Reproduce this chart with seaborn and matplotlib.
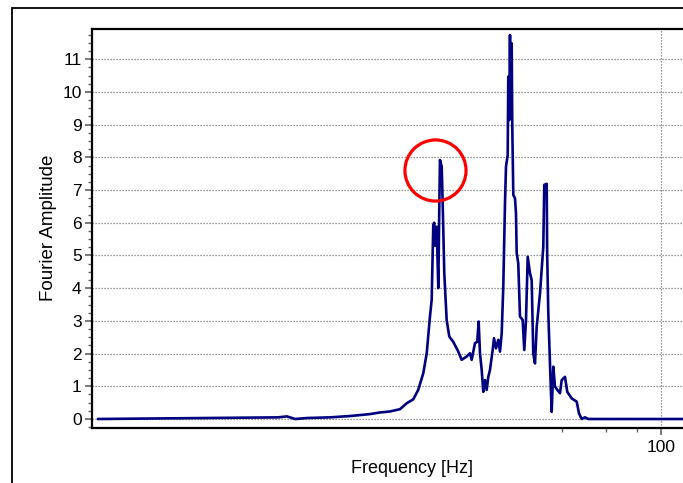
import numpy as np
import pandas as pd
import matplotlib
matplotlib.use("Agg")
import matplotlib.pyplot as plt
from matplotlib.ticker import FixedLocator, MultipleLocator, NullFormatter, FixedFormatter
from matplotlib.patches import Rectangle
import seaborn as sns

# ---- data (frequency in Hz, Fourier amplitude) ----
freq = [0.56, 2.94, 3.19, 3.44, 3.84, 4.74, 5.70, 6.86, 7.52, 8.24, 9.04, 9.61,
        10.21, 10.69, 11.20, 11.56, 11.91, 12.10, 12.28, 12.39, 12.47, 12.67,
        12.86, 12.98, 13.06, 13.27, 13.39, 13.59, 13.89, 14.23, 14.76, 15.46,
        15.95, 16.70, 17.22, 17.49, 18.03, 18.41, 18.65, 18.88, 19.18, 19.46,
        19.77, 20.08, 20.38, 20.70, 21.22, 21.48, 21.88, 22.35, 22.70, 23.06,
        23.40, 23.77, 23.99, 24.37, 24.50, 24.73, 24.89, 25.00, 25.12, 25.28,
        25.42, 25.66, 26.06, 26.30, 26.47, 26.86, 27.29, 27.97, 28.39, 28.84,
        29.30, 29.92, 30.39, 30.84, 31.33, 31.83, 32.81, 33.82, 34.13, 34.90,
        35.05, 35.42, 35.97, 36.31, 36.54, 37.09, 37.67, 38.48, 39.45, 40.07,
        41.30, 42.18, 43.93, 46.01, 46.99, 48.17, 49.66, 51.19, 143.0]
amp = [0.0, 0.05, 0.08, 0.0, 0.03, 0.05, 0.09, 0.15, 0.20, 0.23, 0.30, 0.48,
       0.60, 0.89, 1.40, 2.01, 3.13, 3.64, 5.93, 6.00, 5.30, 5.88,
       4.00, 6.49, 7.92, 7.72, 6.61, 4.46, 3.03, 2.52, 2.36, 2.06,
       1.81, 1.91, 2.01, 1.81, 2.32, 2.36, 2.98, 2.01, 1.50, 0.83,
       1.19, 0.89, 1.29, 1.50, 2.11, 2.47, 2.16, 2.42, 2.06, 2.62,
       4.05, 6.60, 7.72, 8.07, 10.47, 9.14, 11.74, 9.76, 11.28, 11.49,
       8.94, 6.85, 6.75, 6.29, 5.08, 4.76, 3.13, 3.03, 2.11, 3.03,
       4.96, 4.46, 4.25, 2.01, 1.70, 2.82, 3.84, 5.27, 7.16, 7.19,
       5.08, 3.23, 1.70, 0.79, 0.22, 1.60, 0.99, 0.89, 0.79, 1.19,
       1.29, 0.83, 0.63, 0.53, 0.17, 0.0, 0.05, 0.0, 0.0]

y_ticks = list(range(0, 12))
x_major_ticks = [100]
x_major_labels = ["100"]
x_minor_ticks = [40, 60, 80]
highlight_freq = 12.47
highlight_amp = 7.62

df = pd.DataFrame({"Frequency": freq, "Amplitude": amp})

sns.set_theme(style="white")
plt.rcParams["font.family"] = ["Liberation Sans", "DejaVu Sans"]

fig = plt.figure(figsize=(6.83, 4.83), dpi=100)
ax = fig.add_axes([92 / 683, (483 - 427.5) / 483, (700 - 92) / 683, (427.5 - 28.5) / 483])

sns.lineplot(data=df, x="Frequency", y="Amplitude", ax=ax, color="#000080",
             linewidth=1.9, estimator=None, sort=False, zorder=3)

ax.set_xscale("log")
ax.set_xlim(0.530, 143.2)
ax.set_ylim(-0.26, 11.94)

# ticks
ax.xaxis.set_major_locator(FixedLocator(x_major_ticks))
ax.xaxis.set_major_formatter(FixedFormatter(x_major_labels))
ax.xaxis.set_minor_locator(FixedLocator(x_minor_ticks))
ax.xaxis.set_minor_formatter(NullFormatter())
ax.yaxis.set_major_locator(FixedLocator(y_ticks))
ax.yaxis.set_minor_locator(MultipleLocator(0.25))

ax.tick_params(axis="both", which="major", direction="out", length=5, width=1.1,
               color="#555555", labelsize=12.5, labelcolor="black", pad=2.5,
               bottom=True, left=True)
ax.tick_params(axis="both", which="minor", direction="out", length=3, width=1.0,
               color="#666666", bottom=True, left=True)
ax.tick_params(axis="x", which="major", pad=4)

# grid
ax.grid(True, which="major", axis="both", linestyle=(0, (1, 1.4)), color="#777777",
        linewidth=0.9, zorder=0)
ax.set_axisbelow(True)

for side in ["left", "bottom", "top", "right"]:
    ax.spines[side].set_color("black")
    ax.spines[side].set_linewidth(1.6)

ax.set_xlabel("Frequency [Hz]", fontsize=13, color="black")
ax.set_ylabel("Fourier Amplitude", fontsize=13.5, color="black")
ax.xaxis.set_label_coords((412 - 92) / 608, -0.082)
ax.yaxis.set_label_coords(-0.058, 0.5)

# red circle highlight around the first peak
ax.plot([highlight_freq], [highlight_amp], marker="o", markersize=44,
        markerfacecolor="none", markeredgecolor="#ff0000", markeredgewidth=2.3,
        linestyle="none", zorder=4, clip_on=False)

# figure border
fig.patches.append(Rectangle((12 / 683, -0.2), 1.5, (1 - 8 / 483) + 0.2,
                             transform=fig.transFigure, fill=False,
                             edgecolor="black", linewidth=1.3))

fig.savefig("out.png", dpi=100)
